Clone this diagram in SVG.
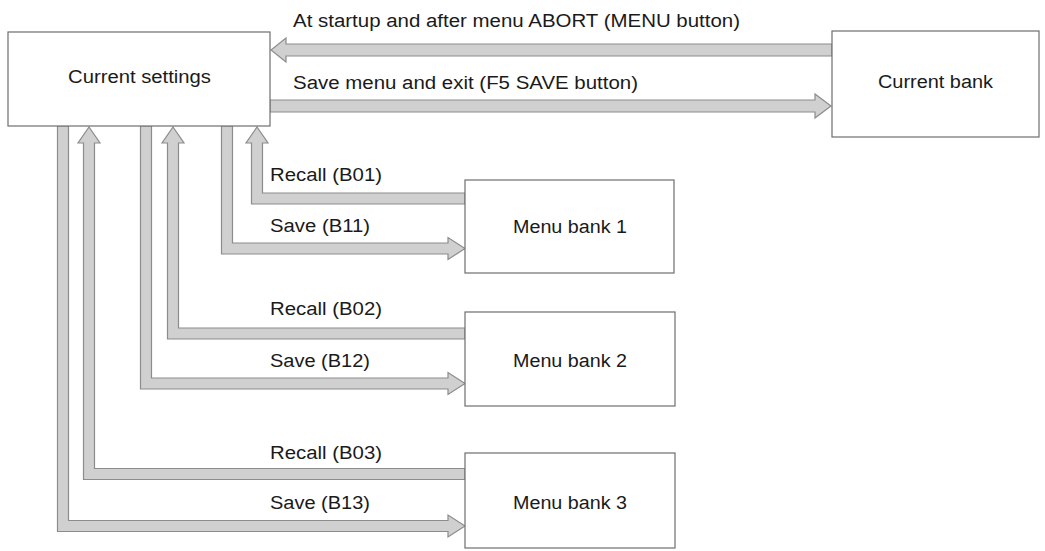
<svg xmlns="http://www.w3.org/2000/svg" width="1045" height="551" viewBox="0 0 1045 551">
<style>
.box{fill:#fff;stroke:#6e6e6e;stroke-width:1.2}
.arr{fill:#d0d0d0;stroke:#8c8c8c;stroke-width:1.2;stroke-linejoin:miter}
text{font-family:"Liberation Sans",Arial,sans-serif;font-size:18px;fill:#1a1a1a}
</style>
<rect width="1045" height="551" fill="#fff"/>
<g id="connectors">
<polygon class="arr" points="832,44 286,44 286,38 271,50 286,62 286,56 832,56"/>
<polygon class="arr" points="270,100 815,100 815,94 831,106 815,118 815,112 270,112"/>
<polygon class="arr" points="465,193 262.5,193 262.5,143 268,143 257,127 246,143 251.5,143 251.5,204 465,204"/>
<polygon class="arr" points="221.5,126 221.5,254 448,254 448,259.5 465,248.5 448,237.5 448,243 232.5,243 232.5,126"/>
<polygon class="arr" points="465,328 178.5,328 178.5,143 184,143 173,127 162,143 167.5,143 167.5,339 465,339"/>
<polygon class="arr" points="140.5,126 140.5,389 448,389 448,394.5 465,383.5 448,372.5 448,378 151.5,378 151.5,126"/>
<polygon class="arr" points="465,468.5 94.5,468.5 94.5,143 100,143 89,127 78,143 83.5,143 83.5,479.5 465,479.5"/>
<polygon class="arr" points="57.5,126 57.5,531.5 448,531.5 448,537 465,526 448,515 448,520.5 68.5,520.5 68.5,126"/>
<text x="293" y="27" textLength="447" lengthAdjust="spacingAndGlyphs">At startup and after menu ABORT (MENU button)</text>
<text x="293" y="89" textLength="345" lengthAdjust="spacingAndGlyphs">Save menu and exit (F5 SAVE button)</text>
<text x="270" y="181" textLength="112" lengthAdjust="spacingAndGlyphs">Recall (B01)</text>
<text x="270" y="232" textLength="100" lengthAdjust="spacingAndGlyphs">Save (B11)</text>
<text x="270" y="315" textLength="112" lengthAdjust="spacingAndGlyphs">Recall (B02)</text>
<text x="270" y="367" textLength="100" lengthAdjust="spacingAndGlyphs">Save (B12)</text>
<text x="270" y="459" textLength="112" lengthAdjust="spacingAndGlyphs">Recall (B03)</text>
<text x="270" y="509" textLength="100" lengthAdjust="spacingAndGlyphs">Save (B13)</text>
</g>
<g id="current-settings">
<rect class="box" x="8" y="32" width="262" height="94"/>
<text x="68" y="83" textLength="143" lengthAdjust="spacingAndGlyphs">Current settings</text>
</g>
<g id="current-bank">
<rect class="box" x="832" y="31" width="207" height="106"/>
<text x="878" y="88" textLength="115" lengthAdjust="spacingAndGlyphs">Current bank</text>
</g>
<g id="menu-bank-1">
<rect class="box" x="465" y="180" width="209" height="93"/>
<text x="513" y="233" textLength="114" lengthAdjust="spacingAndGlyphs">Menu bank 1</text>
</g>
<g id="menu-bank-2">
<rect class="box" x="465" y="312" width="210" height="94"/>
<text x="513" y="367" textLength="114" lengthAdjust="spacingAndGlyphs">Menu bank 2</text>
</g>
<g id="menu-bank-3">
<rect class="box" x="465" y="453" width="210" height="95"/>
<text x="513" y="509" textLength="114" lengthAdjust="spacingAndGlyphs">Menu bank 3</text>
</g>
</svg>
